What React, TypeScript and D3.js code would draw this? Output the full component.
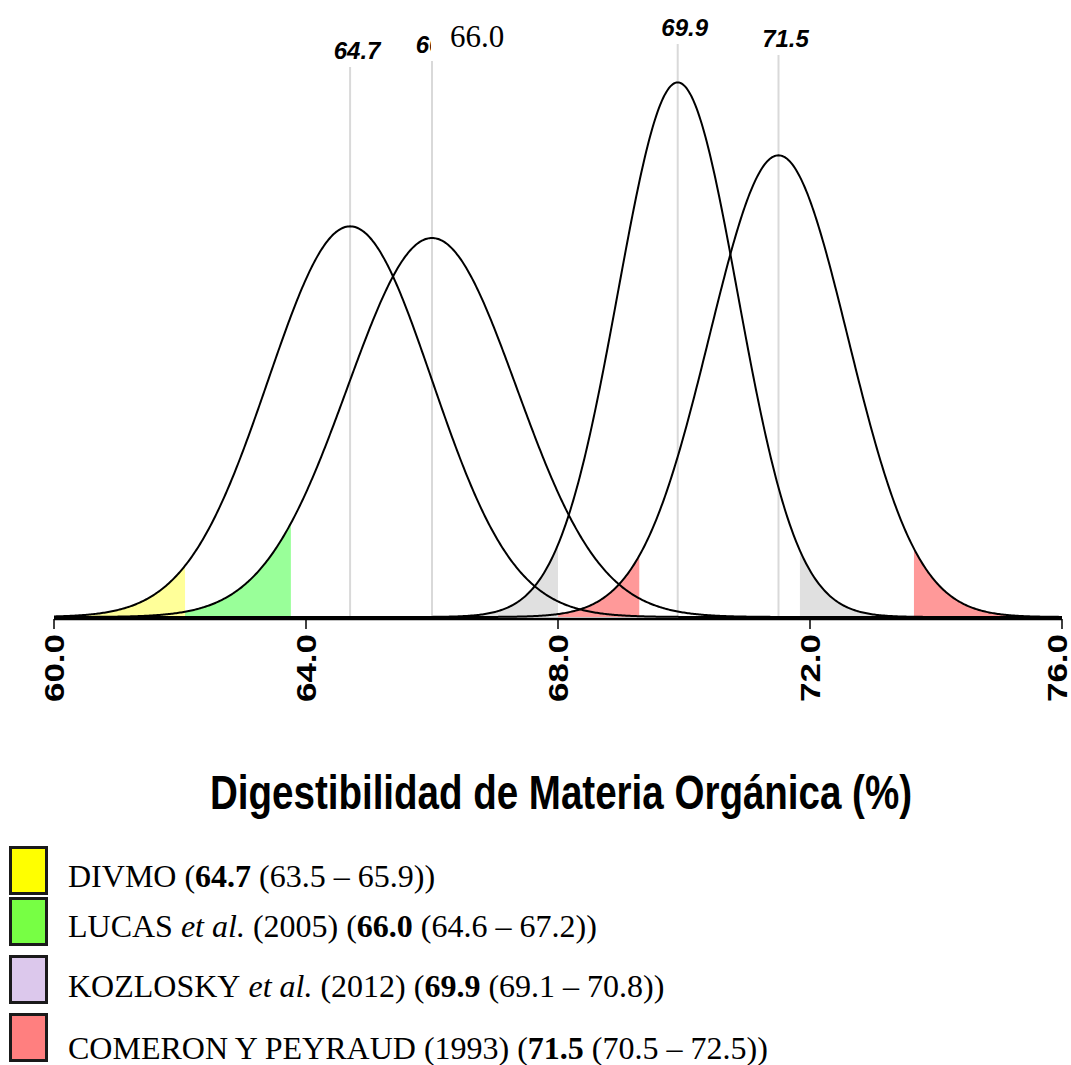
import React from 'react'
import * as d3 from 'd3'

// distribution parameters
const means = [64.7, 66.0, 69.9, 71.5]
const sds = [1.3, 1.34, 0.95, 1.1]
const lowCuts = [62.08, 63.76, 68.0, 69.29]
const highCuts = [null, null, 71.84, 73.65]
const tailColors = ['#ffff99', '#99ff99', '#e0e0e0', '#ff9999']
const peakLabels = ['64.7', '66.0', '69.9', '71.5']
const xTicks = [60, 64, 68, 72, 76]

// legend
const legendNames = ['DIVMO', 'LUCAS', 'KOZLOSKY', 'COMERON Y PEYRAUD']
const legendEtAl = [false, true, true, false]
const legendYears = ['', '(2005)', '(2012)', '(1993)']
const legendMeans = ['64.7', '66.0', '69.9', '71.5']
const legendCI = ['(63.5 – 65.9)', '(64.6 – 67.2)', '(69.1 – 70.8)', '(70.5 – 72.5)']
const legendColors = ['#ffff00', '#77ff44', '#dcc8ec', '#ff7f7f']

const width = 1071
const height = 1065
const baseY = 617

const x = d3.scaleLinear().domain([60, 76]).range([54, 1062])
const y = d3.scaleLinear().domain([0, 0.45]).range([baseY, baseY - 0.45 * 1273])

const pdf = (v: number, m: number, s: number) =>
  Math.exp(-0.5 * ((v - m) / s) ** 2) / (s * Math.sqrt(2 * Math.PI))

const grid = d3.range(60, 76.001, 0.02)

const line = d3.line<number[]>().x(d => x(d[0])).y(d => y(d[1]))
const area = d3.area<number[]>().x(d => x(d[0])).y0(baseY).y1(d => y(d[1]))

const tail = (i: number, a: number, b: number) => {
  const pts = grid.filter(v => v >= a && v <= b).map(v => [v, pdf(v, means[i], sds[i])])
  pts.push([b, pdf(b, means[i], sds[i])])
  if (a > 60) pts.unshift([a, pdf(a, means[i], sds[i])])
  return area(pts) || ''
}

// label layout (baseline y of the peak labels)
const labelY = [59, 53, 36, 47]

const fillOrder = [1, 0, 3, 2]

export default function App() {
  return (
    <svg width={width} height={height} style={{ position: 'absolute', left: 0, top: 0, background: '#fff' }}>
      <defs>
        <clipPath id="cut66">
          <rect x={0} y={0} width={x(means[1]) - 1} height={80} />
        </clipPath>
      </defs>

      {/* tails */}
      {fillOrder.map(i => (
        <g key={'t' + i}>
          <path d={tail(i, 60, lowCuts[i])} fill={tailColors[i]} />
          {highCuts[i] != null && <path d={tail(i, highCuts[i] as number, 76)} fill={tailColors[i]} />}
        </g>
      ))}

      {/* mean lines */}
      {means.map((m, i) => (
        <line key={'m' + i} x1={x(m)} x2={x(m)} y1={labelY[i] + 8} y2={baseY} stroke="#d9d9d9" strokeWidth={2} />
      ))}

      {/* curves */}
      {means.map((m, i) => (
        <path key={'c' + i} d={line(grid.map(v => [v, pdf(v, m, sds[i])])) || ''} fill="none" stroke="#000" strokeWidth={2} />
      ))}

      {/* peak labels */}
      {peakLabels.map((t, i) => (
        <text key={'p' + i} x={x(means[i]) + 7} y={labelY[i]} textAnchor="middle"
          clipPath={i === 1 ? 'url(#cut66)' : undefined}
          fontFamily="Liberation Sans, Arial, sans-serif" fontWeight="bold" fontStyle="italic" fontSize={24}>{t}</text>
      ))}
      <text x={450} y={47} fontFamily="Liberation Serif, Times New Roman, serif" fontSize={31}>{peakLabels[1]}</text>

      {/* axis */}
      <line x1={x(60)} x2={x(76)} y1={619} y2={619} stroke="#000" strokeWidth={2.5} />
      {xTicks.map(t => (
        <g key={'x' + t}>
          <line x1={x(t)} x2={x(t)} y1={619} y2={629} stroke="#000" strokeWidth={1.5} />
          <text transform={`translate(${Math.min(x(t), 1057)},634) rotate(-90)`} dy="0.35em" textAnchor="end"
            fontFamily="Liberation Sans, Arial, sans-serif" fontWeight="bold" fontSize={28}
            textLength={68} lengthAdjust="spacingAndGlyphs">{d3.format('.1f')(t)}</text>
        </g>
      ))}

      <text x={561} y={809} textAnchor="middle" fontFamily="Liberation Sans, Arial, sans-serif" fontWeight="bold"
        fontSize={48} textLength={702} lengthAdjust="spacingAndGlyphs">Digestibilidad de Materia Orgánica (%)</text>

      {/* legend */}
      {legendNames.map((n, i) => {
        const boxY = [846, 897, 955, 1013][i]
        const textY = [887, 937, 997, 1059][i]
        return (
          <g key={'l' + i}>
            <rect x={10.5} y={boxY + 1.5} width={36} height={46} fill={legendColors[i]} stroke="#1a1a1a" strokeWidth={3} />
            <text x={68} y={textY} fontFamily="Liberation Serif, Times New Roman, serif" fontSize={32}>
              {n}
              {legendEtAl[i] && <tspan fontStyle="italic"> et al.</tspan>}
              {legendYears[i] && ' ' + legendYears[i]}
              {' ('}
              <tspan fontWeight="bold">{legendMeans[i]}</tspan>
              {' ' + legendCI[i] + ')'}
            </text>
          </g>
        )
      })}
    </svg>
  )
}
